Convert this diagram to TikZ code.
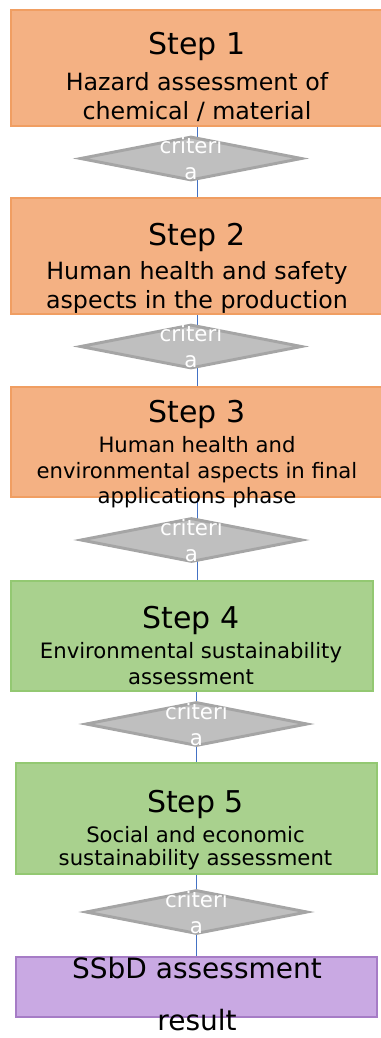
\documentclass[tikz,border=0pt]{standalone}
\usepackage{fontspec}
\setmainfont{DejaVu Sans}
\usetikzlibrary{shapes.geometric,backgrounds}

\definecolor{orfill}{HTML}{F4B183}
\definecolor{ordraw}{HTML}{F09E62}
\definecolor{grfill}{HTML}{A9D18E}
\definecolor{grdraw}{HTML}{93C872}
\definecolor{pufill}{HTML}{C9A9E3}
\definecolor{pudraw}{HTML}{A67CC6}
\definecolor{dmfill}{HTML}{BFBFBF}
\definecolor{dmdraw}{HTML}{A5A5A5}
\definecolor{linkblue}{HTML}{4472C4}

\begin{document}
\begin{tikzpicture}[x=0.75pt,y=-0.75pt,
  stepbox/.style={draw, line width=2.2pt, inner sep=0pt},
  orbox/.style={stepbox, fill=orfill, draw=ordraw},
  grbox/.style={stepbox, fill=grfill, draw=grdraw},
  pubox/.style={stepbox, fill=pufill, draw=pudraw},
  gate/.style={diamond, draw=dmdraw, fill=dmfill, line width=2.2pt,
    inner sep=0pt, minimum width=166.5pt, minimum height=33pt},
  link/.style={draw=linkblue, line width=1.3pt},
  head/.style={anchor=base, inner sep=0pt, font=\fontsize{22.5}{26}\selectfont},
  rhead/.style={anchor=base, inner sep=0pt, font=\fontsize{21}{25}\selectfont},
  bodyl/.style={anchor=base, inner sep=0pt, font=\fontsize{17.8}{21}\selectfont},
  bodys/.style={anchor=base, inner sep=0pt, font=\fontsize{15.9}{19}\selectfont},
  crit/.style={anchor=base, inner sep=0pt, text=white, font=\fontsize{16}{19}\selectfont},
]
\useasboundingbox (0,0) rectangle (380,1038);

% step boxes
\node[orbox, minimum width=279.75pt, minimum height=87pt]    (s1) at (197.5,68)  {};
\node[orbox, minimum width=279.75pt, minimum height=87pt]    (s2) at (197.5,256) {};
\node[orbox, minimum width=279.75pt, minimum height=82.5pt]  (s3) at (197.5,442) {};
\node[grbox, minimum width=271.5pt,  minimum height=82.5pt]  (s4) at (192,636)   {};
\node[grbox, minimum width=270.75pt, minimum height=83.25pt] (s5) at (196.5,818.5) {};
\node[pubox, minimum width=270.75pt, minimum height=45pt]    (s6) at (196.5,987) {};

% connectors behind everything
\begin{scope}[on background layer]
  \draw[link] (s1.south) -- (s2.north);
  \draw[link] (s2.south) -- (s3.north);
  \draw[link] (s3.south) -- (s3.south |- s4.north);
  \draw[link] (s4.south -| s5.north) -- (s5.north);
  \draw[link] (s5.south) -- (s6.north);
\end{scope}

% decision gates
\node[gate] (d1) at (191,158.5) {};
\node[gate] (d2) at (191,346.5) {};
\node[gate] (d3) at (191.5,540) {};
\node[gate] (d4) at (196.5,724) {};
\node[gate] (d5) at (196.5,912) {};

\foreach \g in {d1,d2,d3,d4,d5}{
  \node[crit] (\g-a) at ([yshift=3.75pt]\g.center) {criteri};
  \node[crit] (\g-b) at ([yshift=-15.75pt]\g.center) {a};
}

% step 1
\node[head]  (h1)  at (197,55)  {Step 1};
\node[bodyl] (b1a) at (197,91)  {Hazard assessment of};
\node[bodyl] (b1b) at (197,120) {chemical / material};
% step 2
\node[head]  (h2)  at (197,245) {Step 2};
\node[bodyl] (b2a) at (197,279) {Human health and safety};
\node[bodyl] (b2b) at (197,308) {aspects in the production};
% step 3
\node[head]  (h3)  at (197,422) {Step 3};
\node[bodys] (b3a) at (197,452) {Human health and};
\node[bodys] (b3b) at (197,478) {environmental aspects in final};
\node[bodys] (b3c) at (197,503) {applications phase};
% step 4
\node[head]  (h4)  at (191,628) {Step 4};
\node[bodys] (b4a) at (191,658) {Environmental sustainability};
\node[bodys] (b4b) at (191,684) {assessment};
% step 5
\node[head]  (h5)  at (195.5,812) {Step 5};
\node[bodys] (b5a) at (195.5,842) {Social and economic};
\node[bodys] (b5b) at (195.5,865) {sustainability assessment};
% result
\node[rhead] (r1)  at (197,978)  {SSbD assessment};
\node[rhead] (r2)  at (197,1030) {result};
\end{tikzpicture}
\end{document}
